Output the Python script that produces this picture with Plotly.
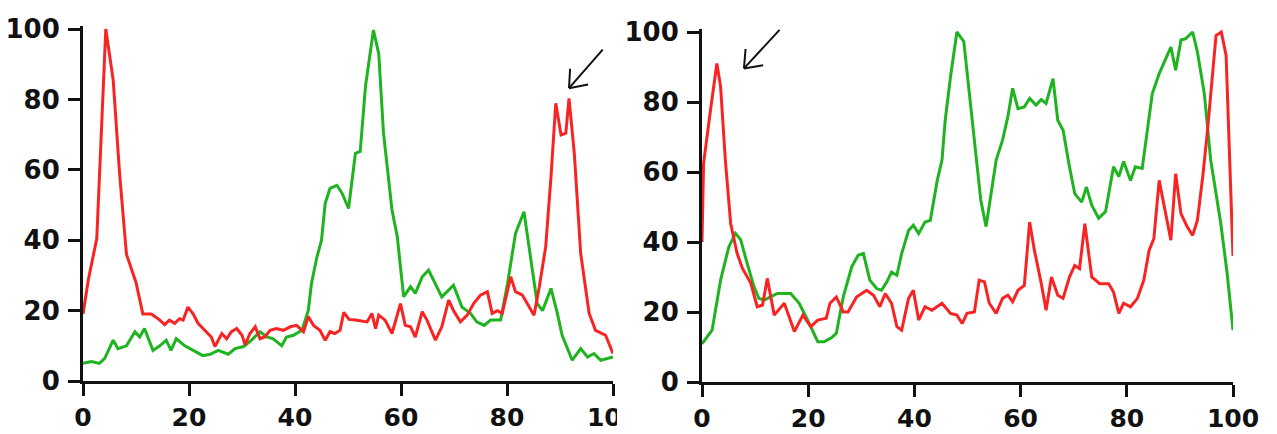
import math
import plotly.graph_objects as go

# ---------------- data ----------------
left_red_x = [0, 1, 2.6, 4.3, 5.7, 6.9, 8.2, 10, 11.3, 12.9, 14.5, 15.4, 16.3, 17.3, 18.2, 18.9,
              19.8, 20.8, 21.7, 23, 24.2, 24.9, 26.2, 27.1, 28, 29, 30, 30.6, 31.5, 32.5, 33.4,
              34.3, 35.3, 36.5, 37.8, 39.1, 40.3, 41.6, 42.5, 43.5, 44.7, 45.7, 46.6, 47.5, 48.5,
              49.2, 50.2, 51.4, 53.6, 54.5, 55.2, 55.8, 57, 58.3, 59.9, 60.8, 61.8, 62.7, 64,
              64.9, 66.5, 67.7, 69, 69.9, 71.2, 72.5, 73.7, 75, 76.3, 77.2, 78.2, 79.1, 80.7,
              81.6, 82.9, 84.2, 85.1, 86.1, 87.3, 88.3, 89.2, 90.2, 91.1, 91.7, 92.7, 93.9,
              95.5, 96.7, 98.6, 100]
left_red_y = [19, 28.7, 40.5, 100, 85.5, 59, 36, 28, 19, 19, 17.3, 16, 17.3, 16.4, 17.7, 17.3,
              21, 19, 16.4, 14.4, 12.5, 9.8, 13.5, 12, 14, 14.9, 13, 10.3, 13.5, 15.4, 12,
              12.5, 14.4, 14.9, 14.4, 15.4, 15.8, 14, 18.3, 15.8, 14.4, 11.6, 14, 13.5, 14.4,
              19.5, 17.5, 17.3, 16.8, 19.2, 14.9, 18.7, 17.3, 13.5, 22, 15.8, 15.4, 12.5, 19.7,
              17.3, 11.6, 15.4, 23, 20, 16.8, 18.7, 22, 24.4, 25.4, 19.2, 20, 19.2, 29.6,
              25.4, 24.4, 21, 18.7, 26.8, 38.1, 58, 78.9, 69.9, 70.4, 80.3, 64.7, 36.3,
              19.2, 14.4, 13, 7.8]

left_green_x = [0, 1.6, 3.1, 4.1, 5.7, 6.6, 8.2, 9.8, 10.7, 11.6, 13.2, 14.5, 15.7, 16.6, 17.6,
                19.2, 20.8, 22.6, 24, 25.5, 27.4, 28.7, 30.3, 31.8, 33.4, 34.7, 35.9, 37.5,
                38.4, 39.7, 41.3, 42.5, 43.1, 44.1, 45, 45.7, 46.6, 47.9, 48.9, 50.1, 51.4,
                52.3, 53.3, 54.8, 55.8, 56.7, 58.3, 59.3, 60.5, 61.8, 62.7, 64, 65.2, 66.5,
                67.7, 68.7, 69.9, 71.5, 73.1, 74.3, 75.7, 76.9, 78.8, 80.1, 81.6, 83.2, 84.5,
                85.7, 86.7, 88.3, 89.5, 90.4, 92.3, 93.9, 95.2, 96.4, 97.7, 100]
left_green_y = [5, 5.5, 5, 6.4, 11.6, 9.2, 10, 14, 12.5, 14.9, 8.7, 10, 11.6, 8.7, 12,
                10, 8.7, 7.2, 7.6, 8.7, 7.6, 9.2, 9.8, 11.6, 14, 12.5, 12, 10,
                12.5, 13, 14.4, 20, 27.6, 35, 40, 50.5, 54.7, 55.6, 53.3, 49, 64.7,
                65.2, 83.7, 99.7, 93, 70.4, 48.6, 41, 23.9, 26.8, 24.9, 29.6, 31.5, 27.7,
                23.9, 25.4, 27.2, 21, 19.2, 16.8, 15.8, 17.3, 17.3, 27.7, 41.9, 48.1, 34.4,
                22, 20, 26.3, 19.2, 13, 5.9, 9.2, 6.8, 7.8, 5.9, 6.8]

right_red_x = [0, 0.3, 1.6, 2.8, 3.5, 4.4, 5.4, 6.6, 7.6, 9.2, 10.4, 11.4, 12.3, 13.6, 15.5,
               17.4, 19, 20.5, 21.8, 23.4, 24.1, 25.3, 26.6, 27.5, 29.1, 31, 32.3, 33.5, 34.5,
               35.7, 36.7, 37.6, 38.9, 39.8, 40.8, 42, 43.3, 45.2, 46.8, 48, 49, 49.9, 51.3,
               52.2, 53.2, 54.1, 55.4, 56.6, 57.6, 58.5, 59.5, 60.7, 61.7, 62.6, 63.9, 64.8,
               65.8, 67, 68, 69.2, 70.2, 71.1, 72.1, 73.4, 74.9, 76.6, 77.5, 78.5, 79.4, 80.7,
               82, 83.2, 84.2, 85.1, 86.1, 87, 88.3, 89.2, 90.2, 91.4, 92.4, 93.3, 94.3, 95.2,
               96.2, 96.8, 97.8, 98.7, 100]
right_red_y = [40, 62.5, 77.7, 91, 84.4, 63.4, 45.3, 36.8, 32.5, 28.2, 21.5, 22, 29.6, 19.1, 22.5,
               14.4, 19.1, 15.8, 17.7, 18.2, 22.5, 24.3, 20, 20, 24.3, 26.2, 24.8, 21.5, 25.3,
               22.5, 15.8, 14.8, 23.9, 26.2, 17.7, 21.5, 20.5, 22.5, 19.6, 19.1, 16.7, 19.6, 20,
               29.1, 28.6, 22.5, 19.6, 23.9, 24.8, 22.9, 26.2, 27.6, 45.7, 37.6, 28.1, 20.5,
               30, 24.8, 23.9, 30, 33.3, 32.4, 45.2, 30, 28.1, 28.1, 25.7, 19.6, 22.5, 21.5,
               23.9, 29.1, 37.6, 41, 57.6, 50.5, 40.5, 59.5, 48.1, 44.3, 41.9, 46.2, 58.6, 71.9,
               88.1, 99, 100, 93.3, 36]

right_green_x = [0, 1.9, 3.5, 5.05, 6.3, 7.3, 8.5, 9.8, 10.7, 11.7, 12.9, 14.2, 16.7, 18.3, 19.9,
                 21.8, 23, 24.5, 25.3, 26.6, 28.2, 29.4, 30.4, 31.6, 32.9, 33.8, 34.8, 35.7, 36.7,
                 37.6, 38.9, 39.8, 40.8, 42, 43, 44.3, 45.2, 45.8, 46.8, 48, 49.3, 50.9, 52.5,
                 53.5, 54.4, 55.4, 56.6, 57.6, 58.5, 59.5, 60.7, 61.7, 62.9, 63.9, 64.8, 66.1, 67,
                 68, 69.2, 70.2, 71.5, 72.4, 73.4, 74.7, 76, 77.5, 78.5, 79.4, 80.7, 81.6, 82.9,
                 83.9, 84.8, 86.1, 87.3, 88.3, 89.2, 90.2, 91.1, 92.4, 93.3, 94.6, 95.8, 97.1,
                 97.7, 98.9, 100]
right_green_y = [10.9, 14.8, 29.1, 38.6, 42.5, 40.6, 33.9, 27.2, 23.9, 23.4, 24.3, 25.3, 25.3, 22.5, 17.7,
                 11.5, 11.5, 12.8, 13.9, 24.3, 32.9, 36.2, 36.7, 29.1, 26.7, 26.2, 28.6, 31.4, 30.5,
                 36.7, 43.3, 44.8, 42.4, 45.7, 46.2, 57.6, 63.4, 74.8, 87.2, 100, 97.3, 74.8, 52,
                 44.4, 52.9, 63.4, 69.1, 75.8, 83.9, 78.1, 78.6, 81, 79.1, 80.7, 79.6, 86.7, 74.8,
                 71.9, 61.5, 53.8, 51.4, 55.7, 50.5, 46.8, 48.7, 61.5, 58.7, 63, 57.6, 61.5, 61,
                 72.9, 82.4, 88.1, 92.4, 95.7, 89.1, 97.7, 98.1, 100, 94.3, 82.4, 63.4, 50.1,
                 45.3, 31, 14.8]

tick_vals = [0, 20, 40, 60, 80, 100]
tick_text = ["0", "20", "40", "60", "80", "100"]

# arrow tips (data coords) for the two annotated peaks
left_arrow_tip = (91.7, 83.2)
right_arrow_tip = (7.9, 89.6)

# ---------------- styling ----------------
W, H = 1277, 434
RED = "#f82424"
GREEN = "#1fb41f"
LINE_W = 3

fig = go.Figure()
fig.add_trace(go.Scatter(x=left_green_x, y=left_green_y, mode="lines",
                         line=dict(color=GREEN, width=LINE_W), xaxis="x", yaxis="y"))
fig.add_trace(go.Scatter(x=left_red_x, y=left_red_y, mode="lines",
                         line=dict(color=RED, width=LINE_W), xaxis="x", yaxis="y"))
fig.add_trace(go.Scatter(x=right_green_x, y=right_green_y, mode="lines",
                         line=dict(color=GREEN, width=LINE_W), xaxis="x2", yaxis="y2"))
fig.add_trace(go.Scatter(x=right_red_x, y=right_red_y, mode="lines",
                         line=dict(color=RED, width=LINE_W), xaxis="x2", yaxis="y2"))

font = dict(family="DejaVu Sans", size=26, color="#111111", weight="bold")
xfont = dict(family="DejaVu Sans", size=25, color="#111111", weight="bold")
axis_common = dict(showline=True, linecolor="#111111", linewidth=3,
                   ticks="outside", ticklen=12, tickwidth=3, tickcolor="#111111",
                   showgrid=False, zeroline=False, automargin=False,
                   tickmode="array", tickvals=tick_vals, ticktext=tick_text, fixedrange=True)

def px2fx(p):
    return p / W

def px2fy(p):
    return (H - p) / H

fig.update_layout(
    template="none",
    width=W, height=H, margin=dict(l=0, r=0, t=0, b=0, pad=0, autoexpand=False),
    paper_bgcolor="white", plot_bgcolor="white", showlegend=False,
    xaxis=dict(domain=[px2fx(83), px2fx(613)], range=[0, 100], anchor="y",
               ticklabelstandoff=0, tickfont=xfont, **axis_common),
    yaxis=dict(domain=[px2fy(381), px2fy(26.2)], range=[0, 100.8], anchor="x",
               ticklabelstandoff=3, tickfont=font, **axis_common),
    xaxis2=dict(domain=[px2fx(702), px2fx(1233)], range=[0, 100], anchor="y2",
                ticklabelstandoff=0, tickfont=xfont, **axis_common),
    yaxis2=dict(domain=[px2fy(382), px2fy(29.2)], range=[0, 100.8], anchor="x2",
                ticklabelstandoff=3, tickfont=font, **axis_common),
)

# open "V" arrows drawn as three line segments each
def add_arrow(tip, xref, yref, shaft=(35, -40), arm_len=21, half_angle=38):
    ang = math.atan2(shaft[1], shaft[0])
    segs = [shaft]
    for s in (-1, 1):
        a = ang + s * math.radians(half_angle)
        segs.append((arm_len * math.cos(a), arm_len * math.sin(a)))
    for ax, ay in segs:
        fig.add_annotation(x=tip[0], y=tip[1], xref=xref, yref=yref, text="",
                           showarrow=True, ax=ax, ay=ay, arrowhead=0,
                           arrowwidth=2, arrowcolor="#111111", standoff=0, startstandoff=0)

add_arrow(left_arrow_tip, "x", "y", shaft=(35, -40))
add_arrow(right_arrow_tip, "x2", "y2", shaft=(37, -40))

# the right image covers the end of the left panel's last x label
fig.add_shape(type="rect", xref="paper", yref="paper", layer="above",
              x0=px2fx(617), x1=px2fx(650), y0=0, y1=px2fy(396),
              fillcolor="white", line=dict(width=0))

fig.write_html("out.html", config={"displayModeBar": False},
               post_script="document.body.style.margin='0px';document.body.style.overflow='hidden';")
